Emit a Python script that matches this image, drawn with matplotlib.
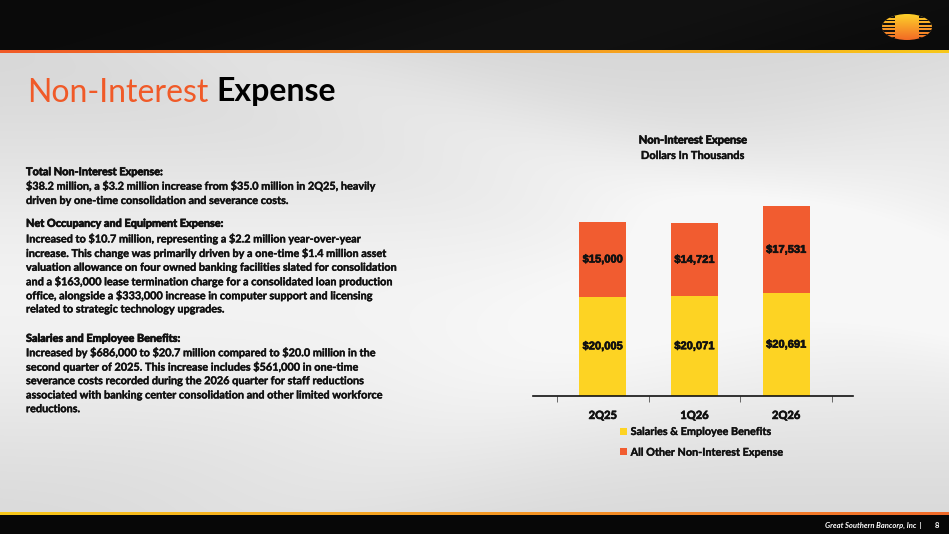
import numpy as np
import matplotlib
matplotlib.use("Agg")
import matplotlib.pyplot as plt
import matplotlib.patheffects as pe
from matplotlib.patches import Patch, Ellipse, Rectangle

# ---------------- data ----------------
categories = ["2Q25", "1Q26", "2Q26"]
salaries = [20005, 20071, 20691]
other_expense = [15000, 14721, 17531]
series_names = ["Salaries & Employee Benefits", "All Other Non-Interest Expense"]
chart_title = "Non-Interest Expense"
chart_subtitle = "Dollars In Thousands"

body_lines = [
    ("Total Non-Interest Expense:", 171.7, True),
    ("$38.2 million, a $3.2 million increase from $35.0 million in 2Q25, heavily", 185.7, False),
    ("driven by one-time consolidation and severance costs.", 200.5, False),
    ("Net Occupancy and Equipment Expense:", 223.3, True),
    ("Increased to $10.7 million, representing a $2.2 million year-over-year", 238.5, False),
    ("increase. This change was primarily driven by a one-time $1.4 million asset", 253.0, False),
    ("valuation allowance on four owned banking facilities slated for consolidation", 267.3, False),
    ("and a $163,000 lease termination charge for a consolidated loan production", 281.3, False),
    ("office, alongside a $333,000 increase in computer support and licensing", 295.3, False),
    ("related to strategic technology upgrades.", 309.0, False),
    ("Salaries and Employee Benefits:", 338.3, True),
    ("Increased by $686,000 to $20.7 million compared to $20.0 million in the", 352.3, False),
    ("second quarter of 2025. This increase includes $561,000 in one-time", 366.7, False),
    ("severance costs recorded during the 2026 quarter for staff reductions", 380.7, False),
    ("associated with banking center consolidation and other limited workforce", 395.0, False),
    ("reductions.", 408.7, False),
]

YELLOW = "#FDD323"
ORANGE = "#F15C30"
TITLE_ORANGE = "#F05A28"
INK = "#111111"

W, H = 949, 534
fig = plt.figure(figsize=(W / 100, H / 100), dpi=100)

# ---------------- background ----------------
bg = fig.add_axes([0, 0, 1, 1])
bg.set_xlim(0, W)
bg.set_ylim(H, 0)
bg.axis("off")

yy, xx = np.mgrid[0:H, 0:W].astype(float)
base = 0.83 + 0.12 * np.exp(-((yy - 300) / 170.0) ** 2)
d = (xx * 0.35 - yy)
base += 0.04 * np.exp(-((d - 40) / 60.0) ** 2)
base += 0.03 * np.exp(-((xx * 0.6 + yy - 700) / 120.0) ** 2)
base = np.clip(base, 0, 0.97)
img = np.dstack([base, base, base])
hdr = yy < 51
img[hdr] = 0.04 + 0.03 * np.exp(-((xx[hdr] * 0.3 + yy[hdr] - 200) / 90.0) ** 2)[:, None]
ftr = yy >= 515
img[ftr] = 0.03
bg.imshow(img, extent=(0, W, H, 0), aspect="auto", zorder=0)

def grad_line(y0, y1, c_left, c_right):
    t = np.linspace(0, 1, 400)[None, :, None]
    cl = np.array(matplotlib.colors.to_rgb(c_left))[None, None, :]
    cr = np.array(matplotlib.colors.to_rgb(c_right))[None, None, :]
    g = cl * (1 - t) + cr * t
    bg.imshow(g, extent=(0, W, y1, y0), aspect="auto", zorder=1)

grad_line(50.5, 53.5, "#F05A28", "#F8C81A")
grad_line(512.5, 515.5, "#F8C81A", "#F06A2A")

# logo
cx, cy, ew, eh = 907, 27, 50, 26
t = np.linspace(0, 1, 100)[:, None, None]
top = np.array(matplotlib.colors.to_rgb("#FDD12A"))
bot = np.array(matplotlib.colors.to_rgb("#F26A25"))
lg = np.repeat(top * (1 - t) + bot * t, 10, axis=1)
im = bg.imshow(lg, extent=(cx - ew / 2, cx + ew / 2, cy + eh / 2, cy - eh / 2), aspect="auto", zorder=2)
clip = Ellipse((cx, cy), ew, eh, transform=bg.transData, facecolor="none", edgecolor="none")
bg.add_patch(clip)
im.set_clip_path(clip)
for k in range(7):
    ys = cy - eh / 2 + 2.2 + k * 3.5
    for xs0, xs1 in [(cx - ew / 2, cx - 12), (cx + 12, cx + ew / 2)]:
        r = Rectangle((xs0, ys), xs1 - xs0, 1.5, facecolor="#111111", edgecolor="none", zorder=3)
        bg.add_patch(r)
        r.set_clip_path(clip)

# ---------------- slide texts ----------------
def fy(ypix):
    return 1 - ypix / H

heavy = [pe.withStroke(linewidth=0.5, foreground=INK)]
semi = [pe.withStroke(linewidth=0.25, foreground=INK)]

fig.text(27 / W, fy(101.5), "Non-Interest", color=TITLE_ORANGE, fontsize=23,
         family="Lato", va="baseline", ha="left")
fig.text(216 / W, fy(101.5), "Expense", color="black", fontsize=23,
         family="Lato", weight="bold", va="baseline", ha="left")

for txt, yc, is_head in body_lines:
    fig.text(26 / W, fy(yc), txt, fontsize=7.85, family="Lato", weight="bold",
             color=INK, va="center", ha="left", parse_math=False,
             path_effects=heavy if is_head else semi)

fig.text(922 / W, fy(525), "Great Southern Bancorp, Inc  |", fontsize=5.5, family="Lato",
         style="italic", weight="bold", color="white", ha="right", va="center")
fig.text(937 / W, fy(525), "8", fontsize=5.5, family="Lato", weight="bold",
         color="white", ha="center", va="center")

fig.text(693 / W, fy(140), chart_title, fontsize=8, family="Lato", weight="bold",
         color=INK, ha="center", va="center", path_effects=heavy)
fig.text(693 / W, fy(155.5), chart_subtitle, fontsize=8, family="Lato", weight="bold",
         color=INK, ha="center", va="center", path_effects=semi)

# ---------------- chart ----------------
ax_left, ax_right, ax_base, ax_top = 533, 853, 396, 190
ax = fig.add_axes([ax_left / W, (H - ax_base) / H, (ax_right - ax_left) / W, (ax_base - ax_top) / H])
ax.set_facecolor("none")
x = np.arange(len(categories))
bw = 0.513
b1 = ax.bar(x, salaries, width=bw, color=YELLOW, label=series_names[0], zorder=2)
b2 = ax.bar(x, other_expense, width=bw, bottom=salaries, color=ORANGE, label=series_names[1], zorder=2)
ax.set_xlim(-0.762, 2.729)
ax.set_ylim(0, 41500)

for rects, vals, bottoms in [(b1, salaries, [0] * 3), (b2, other_expense, salaries)]:
    for r, v, b in zip(rects, vals, bottoms):
        ax.text(r.get_x() + r.get_width() / 2, b + v / 2, f"${v:,}", ha="center", va="center",
                fontsize=8, family="Liberation Sans", weight="bold", color=INK, zorder=3,
                parse_math=False, path_effects=[pe.withStroke(linewidth=0.45, foreground=INK)])

for s in ["top", "right", "left"]:
    ax.spines[s].set_visible(False)
ax.spines["bottom"].set_linewidth(1.2)
ax.spines["bottom"].set_color(INK)
ax.set_yticks([])
ax.set_xticks(x)
ax.set_xticklabels(categories, fontsize=8, family="Lato", weight="bold", color=INK)
for lbl in ax.get_xticklabels():
    lbl.set_path_effects(heavy)
ax.set_xticks([-0.5, 0.5, 1.5, 2.5], minor=True)
ax.tick_params(axis="x", which="major", length=0, pad=10)
ax.tick_params(axis="x", which="minor", length=4, width=0.7, color="#666666", direction="out")

handles = [Patch(facecolor=YELLOW, edgecolor="none"), Patch(facecolor=ORANGE, edgecolor="none")]
leg = ax.legend(handles, series_names, loc="upper left", bbox_to_anchor=(620 / W, fy(426)),
                bbox_transform=fig.transFigure, frameon=False, ncol=1,
                handlelength=0.62, handleheight=0.62, handletextpad=0.36, labelspacing=0.9,
                borderpad=0, borderaxespad=0,
                prop={"family": "Lato", "weight": "bold", "size": 7.8})
for tx in leg.get_texts():
    tx.set_color(INK)
    tx.set_path_effects(semi)

fig.savefig("out.png", dpi=100)
